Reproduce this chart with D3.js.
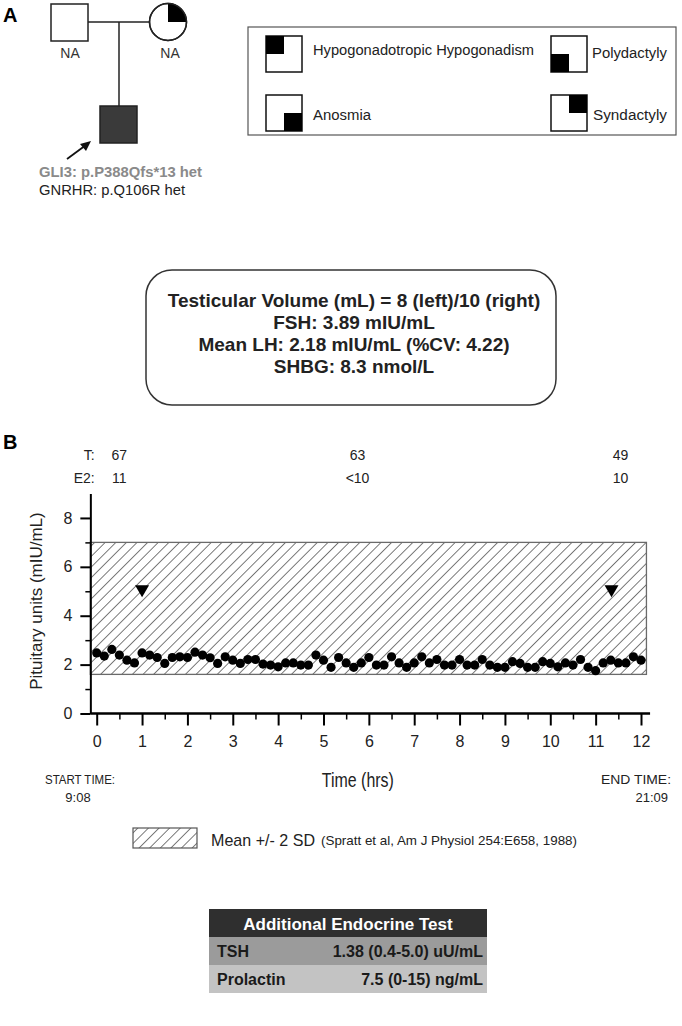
<!DOCTYPE html>
<html><head><meta charset="utf-8">
<script src="https://cdn.jsdelivr.net/npm/d3@7"></script>
<style>
body{margin:0;background:#fff}
svg{display:block;font-family:"Liberation Sans",Arial,sans-serif}
</style></head>
<body><svg id="c" width="682" height="1026"></svg>
<script>
// ---------- data ----------
const sampleMinutes = [0,10,20,30,40,50,60,70,80,90,100,110,120,130,140,150,160,170,180,190,200,210,220,230,240,250,260,270,280,290,300,310,320,330,340,350,360,370,380,390,400,410,420,430,440,450,460,470,480,490,500,510,520,530,540,550,560,570,580,590,600,610,620,630,640,650,660,670,680,690,700,710,720];
const lhValues = [2.48,2.35,2.62,2.39,2.18,2.07,2.48,2.39,2.29,2.05,2.29,2.32,2.29,2.51,2.39,2.28,2.05,2.32,2.18,2.05,2.21,2.21,2.02,1.98,1.91,2.07,2.07,1.98,1.98,2.39,2.18,1.89,2.29,2.07,1.89,2.07,2.29,1.98,1.98,2.32,2.07,1.89,2.07,2.32,2.07,2.21,1.98,1.98,2.21,1.98,1.98,2.21,1.98,1.89,1.89,2.12,2.05,1.89,1.89,2.12,2.05,1.91,2.07,1.98,2.21,1.89,1.75,2.07,2.18,2.07,2.07,2.32,2.18];
const pulseHours = [1.0, 11.35];
const pulseValues = [5.0, 5.0];
const bandLow = 1.6, bandHigh = 7.0;
const bandHours = [-0.14, 12.12];
const xTicks = [0,1,2,3,4,5,6,7,8,9,10,11,12];
const xMinor = [0.5,1.5,2.5,3.5,4.5,5.5,6.5,7.5,8.5,9.5,10.5,11.5];
const yTicks = [0,2,4,6,8];
const yMinor = [1,3,5,7];
const hormoneHours = [0.5, 5.75, 11.55];
const tValues = ["67","63","49"];
const e2Values = ["11","<10","10"];
const tableRows = [["TSH","1.38 (0.4-5.0) uU/mL"],["Prolactin","7.5 (0-15) ng/mL"]];
const infoLines = ["Testicular Volume (mL) = 8 (left)/10 (right)","FSH: 3.89 mIU/mL","Mean LH: 2.18 mIU/mL (%CV: 4.22)","SHBG: 8.3 nmol/L"];
const legendItems = [
  {label:"Hypogonadotropic Hypogonadism", q:"tl"},
  {label:"Polydactyly", q:"bl"},
  {label:"Anosmia", q:"br"},
  {label:"Syndactyly", q:"tr"}
];

const svg = d3.select("#c");
const defs = svg.append("defs");
const pat = defs.append("pattern").attr("id","hatch").attr("patternUnits","userSpaceOnUse")
  .attr("width",7.5).attr("height",7.5).attr("patternTransform","rotate(45)");
pat.append("line").attr("x1",0).attr("y1",0).attr("x2",0).attr("y2",7.5)
  .attr("stroke","#333").attr("stroke-width",1.3);

// ---------- Panel A : pedigree ----------
svg.append("text").attr("x",3).attr("y",22).attr("font-size",20).attr("font-weight","bold").text("A");
const ped = svg.append("g").attr("stroke","#222").attr("stroke-width",1.5).attr("fill","none");
ped.append("line").attr("x1",88).attr("y1",22).attr("x2",150).attr("y2",22);
ped.append("line").attr("x1",119).attr("y1",22).attr("x2",119).attr("y2",106);
ped.append("rect").attr("x",51).attr("y",4).attr("width",37).attr("height",37).attr("fill","#fff");
ped.append("circle").attr("cx",168).attr("cy",22).attr("r",18.5).attr("fill","#fff");
ped.append("path").attr("d","M168,22 L168,3.5 A18.5,18.5 0 0 1 186.5,22 Z").attr("fill","#000").attr("stroke","none");
ped.append("circle").attr("cx",168).attr("cy",22).attr("r",18.5);
ped.append("rect").attr("x",100).attr("y",106).attr("width",37).attr("height",37).attr("fill","#3a3a3a");
svg.append("text").attr("x",70).attr("y",58).attr("text-anchor","middle").attr("font-size",14).attr("fill","#333").text("NA");
svg.append("text").attr("x",170).attr("y",58).attr("text-anchor","middle").attr("font-size",14).attr("fill","#333").text("NA");
svg.append("line").attr("x1",67).attr("y1",159).attr("x2",86).attr("y2",145).attr("stroke","#111").attr("stroke-width",1.8);
svg.append("path").attr("d","M91,141 L80,144 L86,151 Z").attr("fill","#111");
svg.append("text").attr("x",39).attr("y",177).attr("font-size",14).attr("font-weight","bold").attr("fill","#8a8a8a").attr("textLength",163).attr("lengthAdjust","spacingAndGlyphs").text("GLI3: p.P388Qfs*13 het");
svg.append("text").attr("x",39).attr("y",195).attr("font-size",14).attr("fill","#222").attr("textLength",146).attr("lengthAdjust","spacingAndGlyphs").text("GNRHR: p.Q106R het");

// legend box
svg.append("rect").attr("x",248).attr("y",27).attr("width",428).attr("height",108).attr("fill","#fff").attr("stroke","#555").attr("stroke-width",1.2);
const legPos = [{x:266,y:36,tx:313,ty:55,w:221},{x:551,y:36,tx:592,ty:58,w:75},{x:266,y:95,tx:313,ty:120,w:58},{x:551,y:95,tx:593,ty:120,w:74}];
legendItems.forEach((d,i)=>{
  const p = legPos[i], s=36, h=18;
  const g = svg.append("g");
  g.append("rect").attr("x",p.x).attr("y",p.y).attr("width",s).attr("height",s).attr("fill","#fff").attr("stroke","#111").attr("stroke-width",1.5);
  const qx = d.q[1]==="l"?p.x:p.x+s-h, qy = d.q[0]==="t"?p.y:p.y+s-h;
  g.append("rect").attr("x",qx).attr("y",qy).attr("width",h).attr("height",h).attr("fill","#000");
  g.append("text").attr("x",p.tx).attr("y",p.ty).attr("font-size",14).attr("fill","#222")
    .attr("textLength",p.w).attr("lengthAdjust","spacingAndGlyphs").text(d.label);
});

// info box
svg.append("rect").attr("x",146).attr("y",270).attr("width",410).attr("height",135).attr("rx",26).attr("fill","#fff").attr("stroke","#333").attr("stroke-width",1.5);
infoLines.forEach((t,i)=>svg.append("text").attr("x",354).attr("y",307+i*22).attr("text-anchor","middle")
  .attr("font-size",19).attr("font-weight","bold").attr("fill","#222").text(t));

// ---------- Panel B : LH profile ----------
svg.append("text").attr("x",3).attr("y",449).attr("font-size",20).attr("font-weight","bold").text("B");
const x = d3.scaleLinear().domain([0,12]).range([96.7,641]);
const y = d3.scaleLinear().domain([0,9]).range([713.5,493.5]);

svg.append("text").attr("x",x(0)-2).attr("y",460).attr("text-anchor","end").attr("font-size",14).attr("fill","#222").text("T:");
svg.append("text").attr("x",x(0)-2).attr("y",483).attr("text-anchor","end").attr("font-size",14).attr("fill","#222").text("E2:");
hormoneHours.forEach((h,i)=>{
  svg.append("text").attr("x",x(h)).attr("y",460).attr("text-anchor","middle").attr("font-size",14).attr("fill","#222").text(tValues[i]);
  svg.append("text").attr("x",x(h)).attr("y",483).attr("text-anchor","middle").attr("font-size",14).attr("fill","#222").text(e2Values[i]);
});

// band
svg.append("rect").attr("x",x(bandHours[0])).attr("y",y(bandHigh))
  .attr("width",x(bandHours[1])-x(bandHours[0])).attr("height",y(bandLow)-y(bandHigh))
  .attr("fill","url(#hatch)").attr("stroke","#6a6a6a").attr("stroke-width",1.3);

// axes
const yAxis = d3.axisLeft(y).tickValues(yTicks).tickSize(10).tickSizeOuter(0).tickPadding(8).tickFormat(d3.format("d"));
const gy = svg.append("g").attr("transform",`translate(${x(bandHours[0])},0)`).call(yAxis);
gy.selectAll(".tick line").attr("stroke-width",2);
gy.select(".domain").attr("stroke-width",2);
gy.selectAll("text").attr("font-size",16).attr("font-family","Liberation Sans, Arial").attr("fill","#222");
const gym = svg.append("g").attr("transform",`translate(${x(bandHours[0])},0)`).call(d3.axisLeft(y).tickValues(yMinor).tickSize(5).tickFormat(""));
gym.select(".domain").remove(); gym.selectAll(".tick line").attr("stroke-width",1.5);

const xAxis = d3.axisBottom(x).tickValues(xTicks).tickSize(12).tickSizeOuter(0).tickPadding(10).tickFormat(d3.format("d"));
const gx = svg.append("g").attr("transform",`translate(0,${y(0)})`).call(xAxis);
gx.select(".domain").attr("d",`M${x(bandHours[0])},0H${x(12.2)}`).attr("stroke-width",2.5);
gx.selectAll(".tick line").attr("stroke-width",2);
gx.selectAll("text").attr("font-size",16).attr("font-family","Liberation Sans, Arial").attr("fill","#222");
const gxm = svg.append("g").attr("transform",`translate(0,${y(0)})`).call(d3.axisBottom(x).tickValues(xMinor).tickSize(6).tickFormat(""));
gxm.select(".domain").remove(); gxm.selectAll(".tick line").attr("stroke-width",1.5);

// data points
svg.append("g").selectAll("circle").data(lhValues).join("circle")
  .attr("cx",(d,i)=>x(sampleMinutes[i]/60)).attr("cy",d=>y(d)).attr("r",4.6).attr("fill","#000");
// pulses
svg.append("g").selectAll("path").data(pulseValues).join("path")
  .attr("d",(d,i)=>{const cx=x(pulseHours[i]),cy=y(d);return `M${cx-7},${cy-6}L${cx+7},${cy-6}L${cx},${cy+6}Z`;})
  .attr("fill","#000");

// labels
svg.append("text").attr("transform",`translate(42,${y(4.6)}) rotate(-90)`).attr("text-anchor","middle")
  .attr("font-size",17).attr("fill","#222").text("Pituitary units (mIU/mL)");
svg.append("text").attr("x",x(6)-11).attr("y",787).attr("text-anchor","middle").attr("font-size",20).attr("fill","#222")
  .attr("textLength",72).attr("lengthAdjust","spacingAndGlyphs").text("Time (hrs)");
svg.append("text").attr("x",45).attr("y",784).attr("font-size",13).attr("fill","#222").attr("textLength",70).attr("lengthAdjust","spacingAndGlyphs").text("START TIME:");
svg.append("text").attr("x",78).attr("y",802).attr("text-anchor","middle").attr("font-size",13).attr("fill","#222").text("9:08");
svg.append("text").attr("x",601).attr("y",784).attr("font-size",13).attr("fill","#222").attr("textLength",70).attr("lengthAdjust","spacingAndGlyphs").text("END TIME:");
svg.append("text").attr("x",668).attr("y",802).attr("text-anchor","end").attr("font-size",13).attr("fill","#222").text("21:09");

// legend
svg.append("rect").attr("x",133).attr("y",828).attr("width",64).attr("height",20).attr("fill","url(#hatch)").attr("stroke","#555").attr("stroke-width",1.2);
svg.append("text").attr("x",211).attr("y",846).attr("font-size",17).attr("fill","#222").attr("textLength",104).attr("lengthAdjust","spacingAndGlyphs").text("Mean +/- 2 SD");
svg.append("text").attr("x",321).attr("y",845).attr("font-size",13).attr("fill","#222").attr("textLength",256).attr("lengthAdjust","spacingAndGlyphs").text("(Spratt et al, Am J Physiol 254:E658, 1988)");

// table
const tx0 = 209, tw = 278, rh = 28, ty0 = 909;
svg.append("rect").attr("x",tx0).attr("y",ty0).attr("width",tw).attr("height",rh).attr("fill","#2f2f2f");
svg.append("text").attr("x",tx0+tw/2).attr("y",ty0+21).attr("text-anchor","middle").attr("font-size",17).attr("font-weight","bold").attr("fill","#fff").text("Additional Endocrine Test");
const rowFill = ["#9b9b9b","#c3c3c3"];
tableRows.forEach((r,i)=>{
  const yy = ty0+rh*(i+1);
  svg.append("rect").attr("x",tx0).attr("y",yy).attr("width",tw).attr("height",rh).attr("fill",rowFill[i]);
  svg.append("text").attr("x",tx0+8).attr("y",yy+20).attr("font-size",16).attr("font-weight","bold").attr("fill","#1a1a1a").text(r[0]);
  svg.append("text").attr("x",tx0+tw-4).attr("y",yy+20).attr("text-anchor","end").attr("font-size",16).attr("font-weight","bold").attr("fill","#1a1a1a").text(r[1]);
});
</script></body></html>
